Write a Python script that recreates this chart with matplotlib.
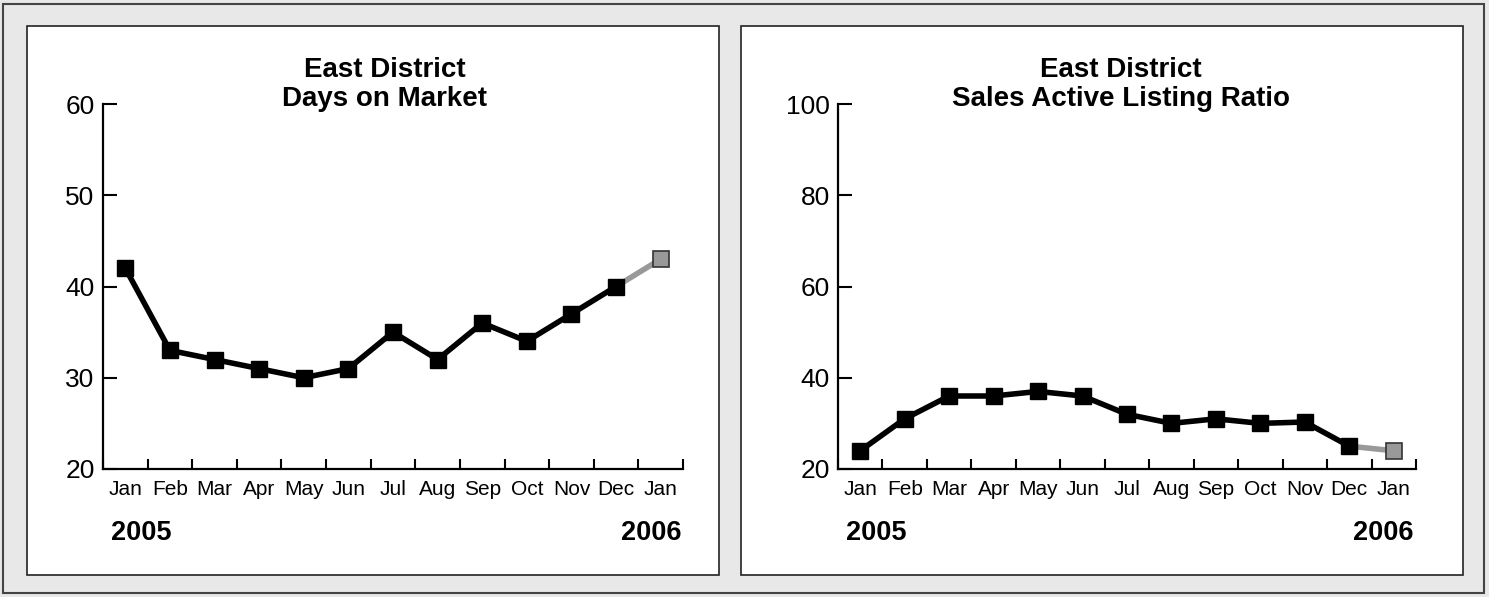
import matplotlib
matplotlib.use("Agg")
import matplotlib.pyplot as plt
from matplotlib.patches import Rectangle

plt.rcParams['font.family'] = ['Liberation Sans', 'DejaVu Sans']

months = ["Jan", "Feb", "Mar", "Apr", "May", "Jun", "Jul", "Aug", "Sep", "Oct", "Nov", "Dec", "Jan"]
dom_values = [42, 33, 32, 31, 30, 31, 35, 32, 36, 34, 37, 40, 43]
ratio_values = [24, 31, 36, 36, 37, 36, 32, 30, 31, 30, 30.3, 25, 24]

dom_ticks = [20, 30, 40, 50, 60]
ratio_ticks = [20, 40, 60, 80, 100]

W, H = 1489, 597
fig = plt.figure(figsize=(W / 100, H / 100), dpi=100)
fig.patch.set_facecolor("#e8e8e8")


def px_rect(x0, y0, x1, y1, **kw):
    fig.patches.append(Rectangle((x0 / W, 1 - y1 / H), (x1 - x0) / W, (y1 - y0) / H,
                                 transform=fig.transFigure, figure=fig, zorder=-5, **kw))


# outer frame and panels
px_rect(3, 4, 1484, 593, facecolor="none", edgecolor="#444444", lw=1.5)
px_rect(27, 26, 719, 575, facecolor="white", edgecolor="#222222", lw=1.2)
px_rect(741, 26, 1463, 575, facecolor="white", edgecolor="#222222", lw=1.2)


def draw(ax_px, values, yticks, title, title_x):
    x0, x1 = ax_px
    ax = fig.add_axes([x0 / W, 1 - 469 / H, (x1 - x0) / W, (469 - 104) / H])
    ax.set_facecolor("none")
    n = len(values)
    xs = list(range(n))
    ax.plot(xs[-2:], values[-2:], color="#999999", lw=4, zorder=2)
    ax.plot(xs[:-1], values[:-1], color="black", lw=4, zorder=3)
    ax.plot(xs[:-1], values[:-1], "s", color="black", ms=12, zorder=4)
    ax.plot(xs[-1:], values[-1:], "s", mfc="#999999", mec="#333333", mew=1.2, ms=11.5, zorder=4)
    ax.set_xlim(-0.5, n - 0.5)
    ax.set_ylim(yticks[0], yticks[-1])
    ax.set_yticks(yticks)
    ax.set_xticks([i + 0.5 for i in range(-1, n)])
    ax.set_xticklabels([])
    ax.set_xticks(xs, minor=True)
    ax.set_xticklabels(months, minor=True, fontsize=15)
    ax.tick_params(axis="x", which="major", direction="in", length=7, width=1.5)
    ax.tick_params(axis="x", which="minor", length=0, pad=8)
    ax.tick_params(axis="y", direction="in", length=10, width=1.5, labelsize=19, pad=6)
    for s in ("top", "right"):
        ax.spines[s].set_visible(False)
    for s in ("left", "bottom"):
        ax.spines[s].set_linewidth(1.6)
    fig.text(title_x / W, 1 - 57 / H, title, ha="center", va="top",
             fontsize=20, fontweight="bold", linespacing=1.15)
    fig.text((x0 + 8) / W, 1 - 533 / H, "2005", ha="left", va="center",
             fontsize=19.5, fontweight="bold")
    fig.text((x1 - 2) / W, 1 - 533 / H, "2006", ha="right", va="center",
             fontsize=19.5, fontweight="bold")
    return ax


draw((103, 683), dom_values, dom_ticks, "East District\nDays on Market", 385)
draw((838, 1416), ratio_values, ratio_ticks, "East District\nSales Active Listing Ratio", 1121)

fig.savefig("out.png", dpi=100, facecolor=fig.get_facecolor())
